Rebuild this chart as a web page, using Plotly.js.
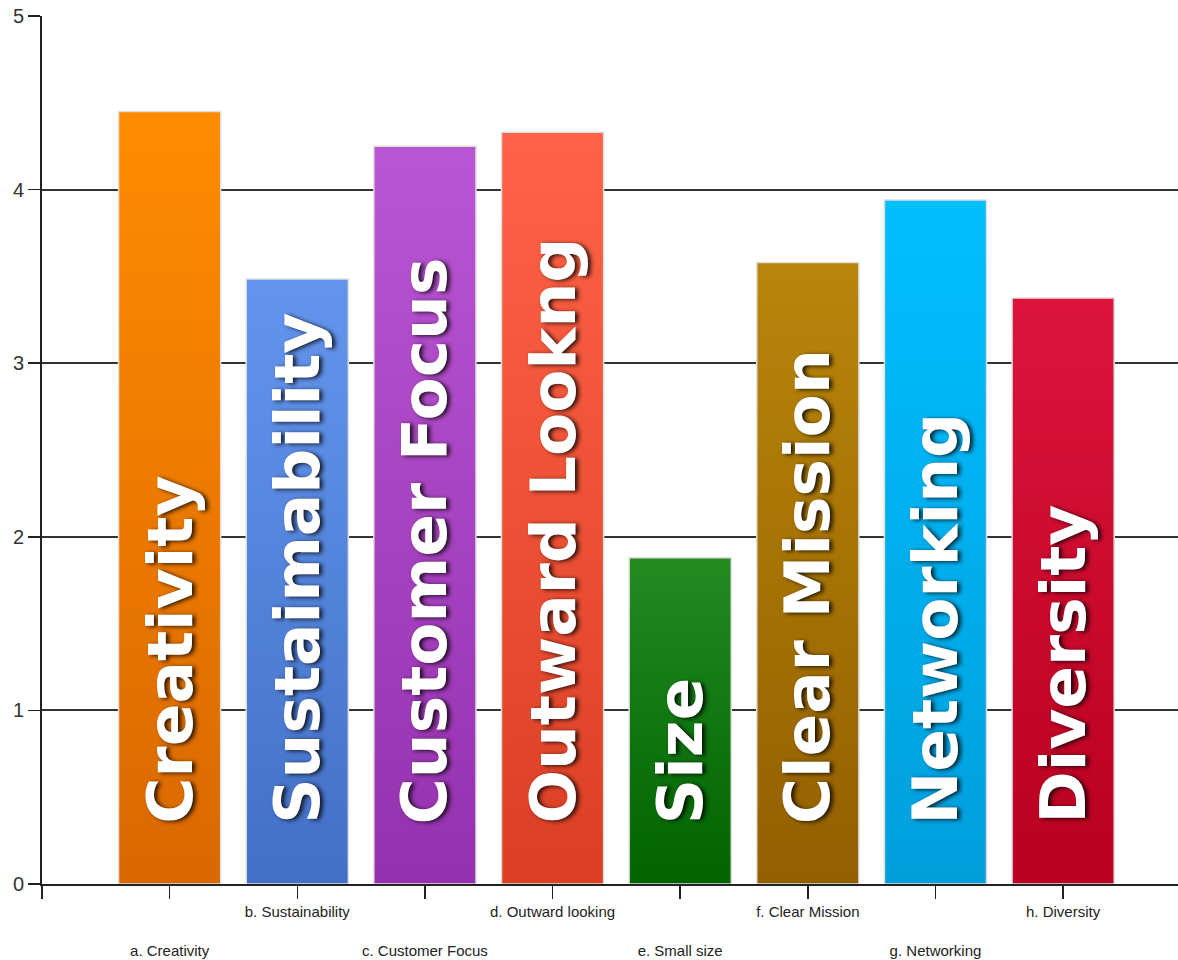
<!DOCTYPE html>
<html>
<head>
<meta charset="utf-8">
<script src="https://cdn.plot.ly/plotly-3.0.1.min.js"></script>
<style>html,body{margin:0;padding:0;background:#fff;}#chart{width:1178px;height:960px;}</style>
</head>
<body>
<div id="chart"></div>
<script>
const categories = ['a. Creativity','b. Sustainability','c. Customer Focus','d. Outward looking','e. Small size','f. Clear Mission','g. Networking','h. Diversity'];
const barLabels = ['Creativity','Sustaimability','Customer Focus','Outward Lookng','Size','Clear Mission','Networking','Diversity'];
const values = [4.45, 3.485, 4.25, 4.33, 1.88, 3.58, 3.94, 3.375];
const topColors = ['#ff8c00','#6495ed','#ba55d3','#ff6347','#228b22','#b8860b','#00bfff','#dc143c'];
const bottomColors = ['#d96800','#4270c6','#9531ae','#da3f24','#006300','#935f00','#009fdc','#b8001f'];
const yTicks = [0,1,2,3,4,5];

const halfW = 0.4;
const traces = values.map((v, i) => ({
  type: 'scatter',
  mode: 'lines',
  x: [i - halfW, i - halfW, i + halfW, i + halfW, i - halfW],
  y: [0, v, v, 0, 0],
  fill: 'toself',
  fillgradient: {type: 'vertical', colorscale: [[0, bottomColors[i]], [1, topColors[i]]]},
  fillcolor: topColors[i],
  line: {color: '#dedede', width: 1.5},
  hoverinfo: 'skip',
  showlegend: false
}));

const annotations = barLabels.map((t, i) => ({
  x: i, y: 0, xref: 'x', yref: 'y',
  text: t, showarrow: false,
  textangle: -90,
  xanchor: 'center', yanchor: 'bottom',
  yshift: 58,
  font: {family: 'DejaVu Sans, Verdana, sans-serif', size: 63, color: '#ffffff', weight: 'bold',
         shadow: '-1px 3px 4px rgba(0,0,0,0.8)'}
}));

const tickvals = [-1].concat(categories.map((c, i) => i));
const ticktext = [''].concat(categories.map((c, i) => i % 2 === 0 ? '<br><br>' + c : c));

const layout = {
  width: 1178, height: 960,
  margin: {l: 42, r: 0, t: 16, b: 76},
  paper_bgcolor: '#ffffff', plot_bgcolor: '#ffffff',
  showlegend: false,
  xaxis: {
    range: [-1, 7.9], showgrid: false, zeroline: false,
    tickvals: tickvals, ticktext: ticktext, tickangle: 0,
    ticks: 'outside', ticklen: 13, tickcolor: '#222', tickwidth: 1.5,
    showline: true, linecolor: '#222', linewidth: 2,
    tickfont: {family: 'Liberation Sans Narrow, Arial Narrow, sans-serif', size: 15, color: '#222'}
  },
  yaxis: {
    range: [0, 5], tickvals: yTicks,
    showgrid: true, gridcolor: '#333', gridwidth: 2,
    zeroline: false,
    ticks: 'outside', ticklen: 12, tickcolor: '#222', tickwidth: 1.5,
    showline: true, linecolor: '#222', linewidth: 2,
    tickfont: {family: 'Liberation Sans Narrow, Arial Narrow, sans-serif', size: 20, color: '#333'}
  },
  annotations: annotations
};

Plotly.newPlot('chart', traces, layout, {displayModeBar: false, staticPlot: true});
</script>
</body>
</html>
